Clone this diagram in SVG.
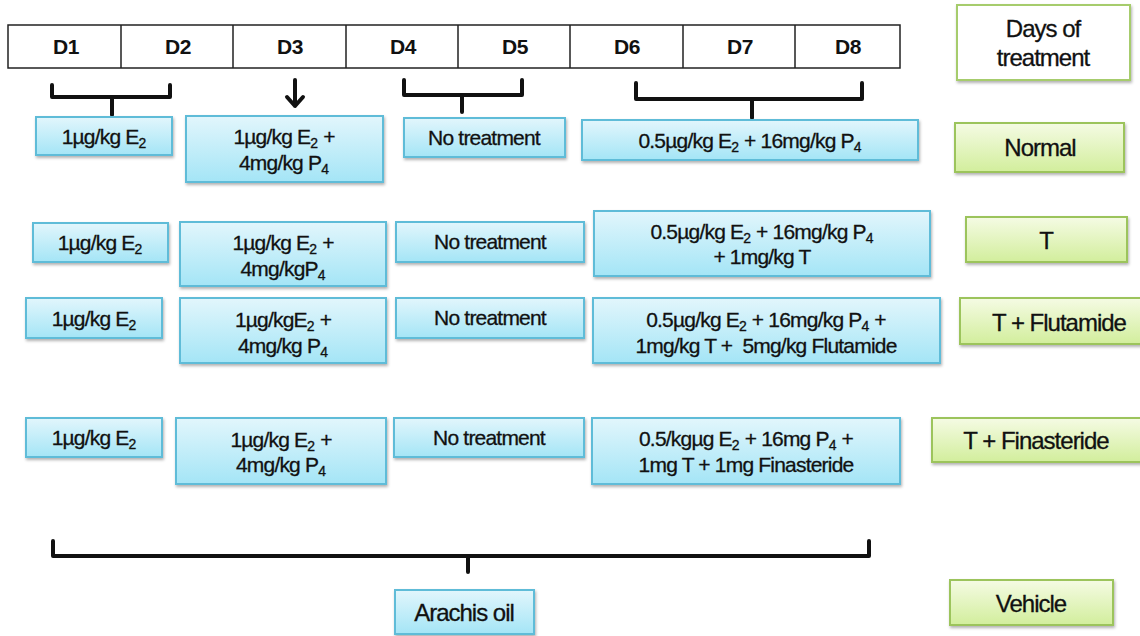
<svg xmlns="http://www.w3.org/2000/svg" width="1140" height="636" viewBox="0 0 1140 636">
<defs>
<linearGradient id="gBlue" x1="0" y1="0" x2="0" y2="1"><stop offset="0" stop-color="#e2f6fc"/><stop offset="1" stop-color="#a4e5f6"/></linearGradient>
<linearGradient id="gGreen" x1="0" y1="0" x2="0" y2="1"><stop offset="0" stop-color="#f5fbe4"/><stop offset="1" stop-color="#d2ee9c"/></linearGradient>
<filter id="sh" x="-10%" y="-20%" width="120%" height="150%"><feDropShadow dx="1" dy="2" stdDeviation="1.5" flood-color="#000" flood-opacity="0.3"/></filter>
<style>
.b{fill:url(#gBlue);stroke:#5fbcd8;stroke-width:2;filter:url(#sh)}
.g{fill:url(#gGreen);stroke:#9cc45c;stroke-width:2;filter:url(#sh)}
.w{fill:#fff;stroke:#a6cc6c;stroke-width:2;filter:url(#sh)}
.t{font-family:"Liberation Sans",Arial,sans-serif;font-size:21px;letter-spacing:-0.8px;fill:#111;stroke:#111;stroke-width:0.3;text-anchor:middle}
.l{font-family:"Liberation Sans",Arial,sans-serif;font-size:24px;letter-spacing:-1px;fill:#111;stroke:#111;stroke-width:0.3;text-anchor:middle}
.d{font-family:"Liberation Sans",Arial,sans-serif;font-size:21px;font-weight:bold;letter-spacing:-0.5px;fill:#111;text-anchor:middle}
.s{font-size:14px;letter-spacing:0}
.cell{fill:#fff;stroke:#222;stroke-width:1.5}
.br{fill:none;stroke:#111;stroke-width:4;stroke-linejoin:round;stroke-linecap:round}
</style>
</defs>
<g id="timeline">
<rect class="cell" x="8" y="25" width="892" height="43"/>
<path d="M121,25V68M233,25V68M346,25V68M458,25V68M570,25V68M683,25V68M795,25V68" stroke="#222" stroke-width="1.5"/>
<text class="d" x="66" y="54">D1</text>
<text class="d" x="178" y="54">D2</text>
<text class="d" x="290" y="54">D3</text>
<text class="d" x="403" y="54">D4</text>
<text class="d" x="515" y="54">D5</text>
<text class="d" x="627" y="54">D6</text>
<text class="d" x="740" y="54">D7</text>
<text class="d" x="848" y="54">D8</text>
</g>
<g id="days-label"><rect class="w" x="957" y="5" width="173" height="75"/><text class="l" x="1043" y="37">Days of</text><text class="l" x="1043" y="66">treatment</text></g>
<g id="connectors">
<path class="br" d="M52,85V97H170V85M112,97V115"/>
<path class="br" d="M295,80V106M287,97L295,106L303,97"/>
<path class="br" d="M404,80V95H522V80M462,95V112"/>
<path class="br" d="M636,83V99H862V83M752,99V118"/>
<path class="br" d="M53,541V556H869V541M468,556V572"/>
</g>
<g id="r1c1"><rect class="b" x="36" y="117" width="136" height="38"/><text class="t" x="104" y="144">1µg/kg E<tspan class="s" dy="4">2</tspan></text></g>
<g id="r1c2"><rect class="b" x="186" y="116" width="197" height="66"/><text class="t" x="284" y="144">1µg/kg E<tspan class="s" dy="4">2</tspan><tspan dy="-4"> +</tspan></text><text class="t" x="284" y="170">4mg/kg P<tspan class="s" dy="4">4</tspan></text></g>
<g id="r1c3"><rect class="b" x="404" y="118" width="161" height="39"/><text class="t" x="484" y="145">No treatment</text></g>
<g id="r1c4"><rect class="b" x="582" y="120" width="336" height="40"/><text class="t" x="750" y="148">0.5µg/kg E<tspan class="s" dy="4">2</tspan><tspan dy="-4"> + 16mg/kg P</tspan><tspan class="s" dy="4">4</tspan></text></g>
<g id="normal"><rect class="g" x="955" y="123" width="169" height="49"/><text class="l" x="1040" y="156">Normal</text></g>

<g id="r2c1"><rect class="b" x="33" y="223" width="135" height="39"/><text class="t" x="100" y="250">1µg/kg E<tspan class="s" dy="4">2</tspan></text></g>
<g id="r2c2"><rect class="b" x="180" y="222" width="206" height="64"/><text class="t" x="283" y="250">1µg/kg E<tspan class="s" dy="4">2</tspan><tspan dy="-4"> +</tspan></text><text class="t" x="283" y="276">4mg/kgP<tspan class="s" dy="4">4</tspan></text></g>
<g id="r2c3"><rect class="b" x="396" y="222" width="188" height="40"/><text class="t" x="490" y="249">No treatment</text></g>
<g id="r2c4"><rect class="b" x="594" y="211" width="336" height="65"/><text class="t" x="762" y="239">0.5µg/kg E<tspan class="s" dy="4">2</tspan><tspan dy="-4"> + 16mg/kg P</tspan><tspan class="s" dy="4">4</tspan></text><text class="t" x="762" y="264">+ 1mg/kg T</text></g>
<g id="t"><rect class="g" x="966" y="217" width="161" height="45"/><text class="l" x="1046" y="249">T</text></g>

<g id="r3c1"><rect class="b" x="26" y="298" width="136" height="40"/><text class="t" x="94" y="326">1µg/kg E<tspan class="s" dy="4">2</tspan></text></g>
<g id="r3c2"><rect class="b" x="180" y="298" width="206" height="65"/><text class="t" x="283" y="327">1µg/kgE<tspan class="s" dy="4">2</tspan><tspan dy="-4"> +</tspan></text><text class="t" x="283" y="353">4mg/kg P<tspan class="s" dy="4">4</tspan></text></g>
<g id="r3c3"><rect class="b" x="396" y="298" width="188" height="40"/><text class="t" x="490" y="325">No treatment</text></g>
<g id="r3c4"><rect class="b" x="593" y="298" width="347" height="65"/><text class="t" x="766" y="327">0.5µg/kg E<tspan class="s" dy="4">2</tspan><tspan dy="-4"> + 16mg/kg P</tspan><tspan class="s" dy="4">4</tspan><tspan dy="-4"> +</tspan></text><text class="t" x="766" y="353" xml:space="preserve">1mg/kg T +  5mg/kg Flutamide</text></g>
<g id="t-flutamide"><rect class="g" x="960" y="298" width="186" height="46"/><text class="l" x="1059" y="331">T + Flutamide</text></g>

<g id="r4c1"><rect class="b" x="26" y="418" width="136" height="39"/><text class="t" x="94" y="445">1µg/kg E<tspan class="s" dy="4">2</tspan></text></g>
<g id="r4c2"><rect class="b" x="176" y="418" width="210" height="66"/><text class="t" x="281" y="447">1µg/kg E<tspan class="s" dy="4">2</tspan><tspan dy="-4"> +</tspan></text><text class="t" x="281" y="472">4mg/kg P<tspan class="s" dy="4">4</tspan></text></g>
<g id="r4c3"><rect class="b" x="394" y="418" width="190" height="39"/><text class="t" x="489" y="445">No treatment</text></g>
<g id="r4c4"><rect class="b" x="592" y="418" width="308" height="66"/><text class="t" x="746" y="446">0.5/kgµg E<tspan class="s" dy="4">2</tspan><tspan dy="-4"> + 16mg P</tspan><tspan class="s" dy="4">4</tspan><tspan dy="-4"> +</tspan></text><text class="t" x="746" y="472">1mg T + 1mg Finasteride</text></g>
<g id="t-finasteride"><rect class="g" x="932" y="418" width="214" height="44"/><text class="l" x="1036" y="449">T + Finasteride</text></g>

<g id="arachis"><rect class="b" x="395" y="590" width="139" height="44"/><text class="l" x="464" y="621">Arachis oil</text></g>
<g id="vehicle"><rect class="g" x="950" y="580" width="163" height="45"/><text class="l" x="1031" y="612">Vehicle</text></g>
</svg>
